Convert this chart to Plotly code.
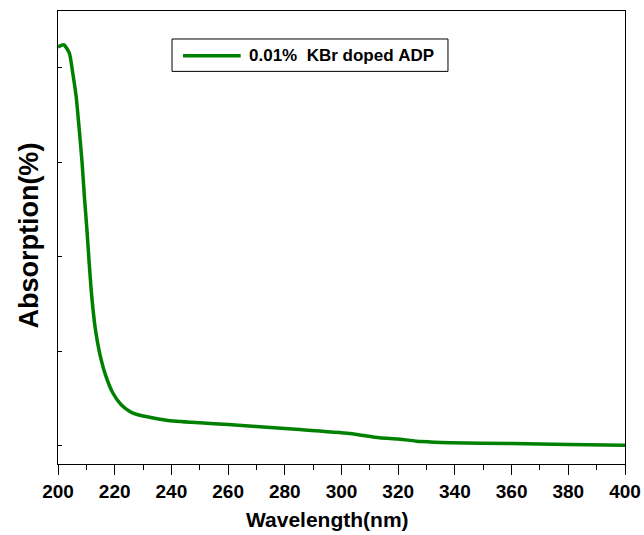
import plotly.graph_objects as go

wavelength = [200, 202.0, 204.0, 205.2, 206.4, 207.5, 208.5, 209.3, 210.2, 211.0, 211.9,
              213.2, 214.8, 216.9, 219.3, 222.2, 225.2, 227.9, 238.2, 250, 260, 280,
              285.3, 302.9, 313.4, 320, 326.4, 328, 338.2, 360, 380, 400]
absorption = [4.22, 4.243, 4.155, 3.944, 3.696, 3.344, 2.991, 2.638, 2.286, 1.933, 1.580,
              1.228, 0.963, 0.734, 0.558, 0.434, 0.363, 0.328, 0.268, 0.240, 0.222, 0.180,
              0.169, 0.127, 0.081, 0.069, 0.046, 0.042, 0.029, 0.021, 0.011, 0.003]
x_ticks = [200, 220, 240, 260, 280, 300, 320, 340, 360, 380, 400]
y_ticks = [0, 1, 2, 3, 4]
series_name = "0.01%  KBr doped ADP"

FONT = "Liberation Sans, Arial, sans-serif"
GREEN = "#008000"

fig = go.Figure()
fig.add_trace(go.Scatter(
    x=wavelength, y=absorption, mode="lines",
    line=dict(color=GREEN, width=3.5, shape="spline", smoothing=0.6),
    showlegend=False,
))

# legend (drawn manually for size fidelity)
lx0, lx1, ly0, ly1 = 0.2011, 0.6878, 0.8667, 0.9382
fig.add_shape(type="rect", xref="paper", yref="paper", x0=lx0, x1=lx1, y0=ly0, y1=ly1,
              line=dict(color="black", width=1), fillcolor="white")
fig.add_shape(type="line", xref="paper", yref="paper", x0=0.2205, x1=0.3222,
              y0=0.9014, y1=0.9014, line=dict(color=GREEN, width=3.5))
fig.add_annotation(xref="paper", yref="paper", x=0.333, y=0.9014, xanchor="left",
                   yanchor="middle", text="<b>%s</b>" % series_name.replace(" ", "&nbsp;"),
                   showarrow=False, font=dict(family=FONT, size=17, color="black"))

# axis titles
fig.add_annotation(xref="paper", yref="paper", x=0.4757, y=-0.1236, xanchor="center",
                   yanchor="middle", text="<b>Wavelength(nm)</b>", showarrow=False,
                   font=dict(family=FONT, size=21, color="black"))
fig.add_annotation(xref="paper", yref="paper", x=-0.0505, y=0.505, xanchor="center",
                   yanchor="middle", text="<b>Absorption(%)</b>", showarrow=False,
                   textangle=-90, font=dict(family=FONT, size=27, color="black"))

fig.update_layout(
    width=644, height=535,
    margin=dict(l=58, r=19, t=11, b=70.5, autoexpand=False),
    paper_bgcolor="white", plot_bgcolor="white",
    font=dict(family=FONT, color="black"),
    showlegend=False,
)
fig.update_xaxes(
    range=[200, 400], tickvals=x_ticks, automargin=False,
    ticktext=["<b>%d</b>" % v for v in x_ticks],
    ticks="outside", ticklen=10, tickwidth=1.3, tickcolor="black",
    minor=dict(dtick=10, ticks="outside", ticklen=5, tickwidth=1.3, tickcolor="black"),
    showline=True, linecolor="black", linewidth=1.3, mirror=True,
    showgrid=False, zeroline=False,
    tickfont=dict(family=FONT, size=19, color="black"),
)
fig.update_yaxes(
    range=[-0.196, 4.6], tickvals=y_ticks, showticklabels=False, automargin=False,
    ticks="inside", ticklen=4, tickwidth=1.2, tickcolor="black",
    showline=True, linecolor="black", linewidth=1.3, mirror=True,
    showgrid=False, zeroline=False,
)

fig.write_html("out.html")
